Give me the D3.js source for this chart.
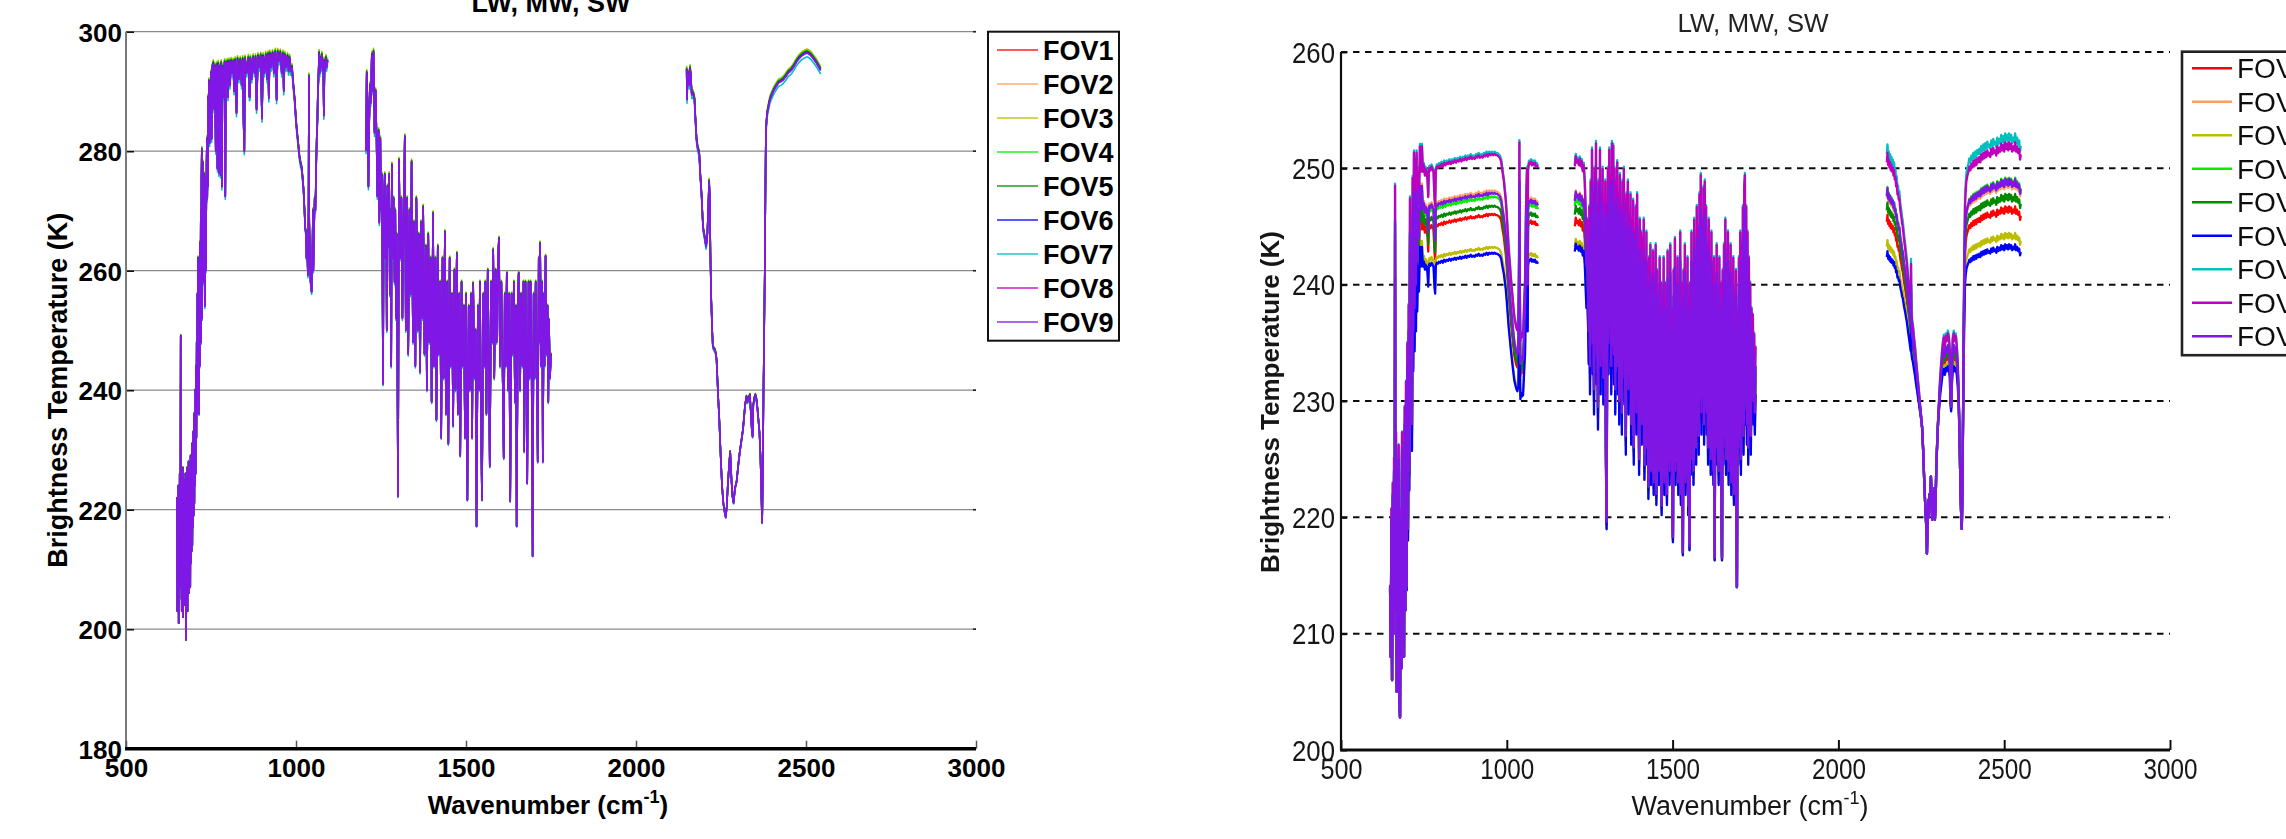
<!DOCTYPE html>
<html>
<head>
<meta charset="utf-8">
<script src="https://cdn.jsdelivr.net/npm/d3@7"></script>
<style>
html, body { margin: 0; padding: 0; background: #fff; overflow: hidden; }
svg { display: block; }
text { font-family: "Liberation Sans", Arial, Helvetica, sans-serif; }
</style>
</head>
<body>
<svg id="fig" width="2286" height="839"></svg>
<script>
// ---- data -------------------------------------------------------------
const fovNames = ["FOV1", "FOV2", "FOV3", "FOV4", "FOV5", "FOV6", "FOV7", "FOV8", "FOV9"];
const xTicks = [500, 1000, 1500, 2000, 2500, 3000];
const leftYTicks = [180, 200, 220, 240, 260, 280, 300];
const rightYTicks = [200, 210, 220, 230, 240, 250, 260];
const panelTitle = "LW, MW, SW";

// Left scene, FOV9 brightness temperature [wavenumber, K] per band
const leftLW = [[650,222],[651,203],[652,220],[653,206],[654,224],[655,201],[656,219],[657,205],[658,226],[659,208],[660,221],[661,249],[662,207],[663,224],[664,203],[665,222],[666,206],[667,227],[668,202],[669,220],[670,207],[671,225],[672,204],[673,223],[674,209],[675,226],[676,201],[677,198.2],[678,221],[679,205],[680,227],[681,203],[682,222],[683,208],[684,228],[685,206],[686,224],[687,210],[688,226],[689,207],[690,229],[691,211],[692,225],[693,213],[694,231],[695,214],[696,227],[697,217],[698,233],[699,219],[700,236],[701,221],[702,235],[703,224],[704,240],[705,226],[706,244],[707,232],[708,248],[709,236],[710,256],[711,240],[712,262],[713,242],[714,258],[715,236],[716,262],[717,244],[718,264.6],[719,250],[720,270],[721,248],[722,275],[723,280.2],[724,252],[725,270],[726,278],[727,258],[728,270],[729,262],[730,276],[731,275.2],[732,254],[733,266],[734,272],[735,260],[736,270],[737,277.4],[738,282],[739,272],[740,280],[741,274],[742,289],[743,284],[744,291.6],[746,281.3],[748,285],[750,293],[752,282],[754,294],[757,294.6],[759,287],[761,294],[764,280],[766,294.3],[769,277],[771,294.5],[773,276.3],[775,294],[778,276],[780,294.6],[782,274],[784,294],[787,289],[790,294.8],[792,272.4],[794,294.5],[798,294.8],[800,289],[803,294.9],[806,291],[809,295],[812,293],[815,294.9],[818,290],[821,295.1],[825,286.3],[828,295.3],[832,292],[836,295.2],[840,291],[843,295.3],[846,284.3],[848,279.9],[850,295.4],[855,293],[860,295.5],[863,289],[865,289.1],[866,295.4],[870,292],[874,295.6],[878,293],[881,295.6],[884,286.9],[888,295.8],[892,294],[896,295.9],[900,285.4],[903,295.8],[907,293],[911,296],[915,292],[918,296.1],[920,288.8],[923,296.2],[927,294],[931,296.3],[935,293],[939,296.5],[943,288.5],[946,296.5],[950,295],[954,296.4],[958,293],[962,296.2],[964,290],[967,296],[971,294],[975,295.8],[978,293.3],[981,295.5],[984,293.3],[988,294],[992,291],[996,288.5],[1000,285],[1003,283],[1006,281.4],[1010,279],[1013,278],[1017,277],[1020,275],[1022,273.6],[1025,270],[1027,267],[1029,266.4],[1031,262],[1033,264],[1035,259.2],[1037,270],[1038,292.4],[1039,268],[1041,262],[1043,258],[1046,256.4],[1048,262],[1050,270],[1051,260],[1053,266.4],[1055,272],[1057,270],[1059,276.4],[1061,282],[1063,285],[1064,288.6],[1066,292],[1068,296.3],[1070,293],[1072,295.5],[1074,294],[1076,296],[1078,293.5],[1080,295],[1082,285.9],[1084,295],[1086,293.5],[1088,295.5],[1090,294],[1093,295]];
const leftMW = [[1206,280],[1208,293],[1211,287],[1213,274],[1215,284],[1218,291],[1220,288],[1223,296],[1226,290],[1228,296.5],[1231,283],[1234,290],[1237,282],[1239,272.4],[1241,280],[1243,283.3],[1245,268],[1248,282],[1250,270],[1252,276],[1254,262],[1256,241],[1258,270],[1261,276],[1263,262],[1265,272],[1267,250],[1269,274],[1272,264],[1274,276],[1276,256],[1278,270],[1280,244],[1282,277.6],[1285,262],[1287,272],[1290,258],[1292,270],[1294,252],[1296,266],[1298,248],[1300,222.2],[1303,278.4],[1306,262],[1310,272],[1313,252],[1317,270],[1320,282.3],[1323,250],[1327,272],[1330,246],[1334,270],[1337,256],[1340,278.1],[1344,248],[1347,268],[1351,244],[1354,272],[1358,250],[1361,266],[1365,243],[1368,268],[1372,252],[1374,270.6],[1378,246],[1382,264],[1385,240],[1389,266],[1392,248],[1396,262],[1399,238],[1403,269.5],[1406,244],[1410,262],[1413,235],[1417,264],[1420,246],[1424,258],[1427,232],[1431,262],[1434,242],[1438,266.4],[1441,236],[1445,258],[1448,231],[1452,262],[1455,244],[1459,256],[1462,234],[1466,260],[1469,240],[1473,262.8],[1476,236],[1480,256],[1483,229],[1487,258],[1490,244],[1494,254],[1497,232],[1500,256],[1504,221.6],[1508,254],[1511,240],[1515,256],[1518,232],[1521,257.8],[1525,242],[1528,250],[1531,217.2],[1535,254],[1538,240],[1541,258],[1544,236],[1547,221.6],[1551,256],[1554,244],[1557,258],[1560,236],[1564,260],[1567,246],[1570,227.2],[1574,258],[1577,248],[1580,263.4],[1583,242],[1587,260],[1590,248],[1594,262],[1597,265.3],[1600,244],[1604,258],[1607,246],[1611,228.6],[1614,256],[1617,244],[1620,259.5],[1624,240],[1627,256],[1630,221.4],[1634,256],[1637,246],[1641,258],[1644,238],[1647,254],[1649,217.2],[1653,256],[1655,259.5],[1659,240],[1662,256],[1666,244],[1669,258],[1671,229.7],[1675,258],[1678,246],[1680,224.4],[1684,258],[1687,242],[1690,258],[1693,244],[1696,212.2],[1699,256],[1702,242],[1705,258],[1708,246],[1711,228],[1714,262],[1717,248],[1718,264.5],[1721,244],[1724,258],[1726,228],[1729,256],[1731,244],[1734,262.3],[1737,246],[1740,254],[1742,238],[1744,251.7],[1747,242],[1750,246]];
const leftSW = [[2149,293.6],[2150,288.6],[2152,292.5],[2155,293],[2157,291],[2159,293.8],[2161,292.5],[2164,289.4],[2168,289.6],[2172,288.6],[2175,285],[2178,281.9],[2181,280.6],[2183,280.2],[2186,279.5],[2189,276],[2193,272.4],[2196,268.5],[2198,266.8],[2202,265.5],[2206,264],[2208,264.8],[2210,266.2],[2213,271],[2215,274.9],[2217,272],[2219,262],[2221,255.6],[2224,250],[2226,247.3],[2229,246.9],[2232,246.7],[2235,246],[2237,245],[2240,241],[2242,238.4],[2245,235],[2249,229],[2253,224],[2257,221],[2261,219.5],[2264,218.7],[2267,220.5],[2270,224],[2274,227.5],[2277,229.7],[2280,226],[2283,222.5],[2287,221.1],[2291,223.5],[2296,224.7],[2300,227],[2305,229.5],[2310,231.5],[2315,233.5],[2318,235.6],[2321,237.5],[2325,238.9],[2328,238],[2331,238.5],[2335,239.2],[2338,236],[2341,233],[2343,232.2],[2345,237.5],[2348,238.6],[2351,239.2],[2354,238.5],[2357,237],[2360,235],[2363,233],[2366,229],[2369,222],[2371,217.8],[2373,226],[2375,240],[2377,250],[2379,260.7],[2381,276],[2382,283],[2384,285],[2386,286.3],[2390,287.5],[2394,288.6],[2399,289.3],[2404,290],[2411,290.7],[2419,291.4],[2426,291.6],[2433,291.9],[2440,292.4],[2448,293.1],[2453,293.3],[2458,293.6],[2465,294.2],[2473,295],[2480,295.5],[2487,295.9],[2495,296.2],[2502,296.4],[2507,296.3],[2512,296.1],[2517,295.8],[2521,295.5],[2526,295.1],[2531,294.7],[2535,294.3],[2539,293.9],[2543,293.5]];

// Left scene: FOV offsets from FOV9 (K) at the warm window level
const leftOffsets = [0.2, 0.3, 0.7, 0.45, 0.35, 0.15, -0.6, 0.1, 0];
const leftColdK = 200;
const leftWarmK = 295;

// Right scene, FOV9 brightness temperature [wavenumber, K] per band
const rightLW = [[648,214],[650,208],[652,220],[654,206],[656,222],[658,210],[660,224],[662,212],[663,245.4],[664,214],[666,226],[668,205],[670,221],[672,209],[674,225],[676,204],[678,202.8],[680,220],[682,207],[684,226],[686,210],[688,222],[690,208],[692,228],[694,212],[696,230],[698,214],[700,233],[702,219],[704,236],[706,224],[708,244.4],[710,230],[712,241],[714,228],[716,246],[718,236],[720,248],[722,238],[724,247.5],[726,240],[728,248],[730,242],[732,246.5],[735,244],[738,248.5],[741,246.5],[744,248.5],[747,246.5],[750,247],[753,246.2],[755,246.7],[758,246.5],[761,245.8],[763,244.5],[765,246.6],[767,246.8],[770,246.6],[773,246.9],[776,246.7],[779,246.5],[782,244.4],[784,243.8],[786,246.6],[789,246.9],[792,246.8],[795,247],[799,246.9],[803,247.1],[807,246.9],[811,247.2],[815,247],[819,247.2],[823,247.1],[827,247.3],[831,247.1],[835,247.3],[839,247.2],[843,247.4],[847,247.2],[851,247.4],[855,247.3],[859,247.5],[863,247.3],[867,247.5],[871,247.4],[875,247.6],[879,247.4],[883,247.6],[887,247.5],[891,247.7],[895,247.5],[899,247.6],[903,247.5],[907,247.7],[911,247.6],[915,247.8],[919,247.6],[923,247.7],[927,247.6],[931,247.8],[935,247.7],[939,247.9],[943,247.7],[947,247.9],[951,247.8],[955,247.9],[959,247.8],[963,247.9],[967,247.8],[971,247.8],[975,247.7],[979,247.6],[983,247.3],[987,246.5],[991,245.8],[994,245],[997,244.2],[1000,243],[1003,241.6],[1006,240.3],[1009,239.3],[1012,238.2],[1015,237.3],[1018,236.4],[1020,235.8],[1023,235],[1026,234.6],[1029,234.2],[1032,234],[1035,234.5],[1037,240],[1038,248.8],[1039,238],[1041,233.2],[1044,233.8],[1047,233.5],[1049,233.6],[1051,235],[1053,236.5],[1055,237.8],[1057,242],[1059,245],[1061,246.7],[1063,240],[1064,246.6],[1067,247.2],[1070,247.1],[1073,247.3],[1076,247],[1079,247.2],[1082,247],[1085,247.2],[1088,246.9],[1091,247],[1094,246.8]];
const rightMW = [[1205,247.2],[1208,248],[1211,247.5],[1214,247.7],[1217,247.3],[1220,247.8],[1223,247.2],[1226,247.6],[1229,246.8],[1232,247.3],[1235,246],[1237,244.4],[1240,241.6],[1242,243],[1245,240],[1247,236],[1249,244],[1251,233],[1253,246],[1255,238],[1257,248.5],[1259,235],[1261,245],[1263,231],[1265,247],[1267,237],[1269,249],[1271,234],[1273,244],[1275,229.5],[1277,246],[1279,236],[1281,248.5],[1283,233],[1285,245],[1287,238],[1289,247],[1291,232],[1293,244],[1295,236],[1297,246],[1299,226],[1301,219.6],[1303,240],[1305,247],[1307,235],[1309,248.5],[1311,237],[1313,246.5],[1315,233],[1317,249],[1319,238],[1321,248.8],[1323,234],[1325,247],[1327,231],[1329,246],[1331,238],[1333,247.5],[1335,233],[1337,245],[1339,230],[1341,246.5],[1343,236],[1345,244],[1347,229],[1349,246],[1351,235],[1353,247],[1355,232],[1357,244.5],[1359,227],[1361,245],[1363,236],[1365,246],[1367,231],[1369,243.5],[1371,235],[1373,245],[1375,228],[1377,243],[1379,233],[1381,244.5],[1383,226],[1385,242],[1387,234],[1389,244],[1391,229],[1393,245],[1395,232],[1397,241],[1399,225],[1401,243],[1403,233],[1405,242],[1407,228],[1409,241.5],[1411,231],[1413,243],[1415,224.5],[1417,240],[1419,230],[1421,242],[1423,226],[1425,239.5],[1427,222.6],[1429,240],[1431,229],[1433,241],[1435,224],[1437,238],[1439,228],[1441,240.5],[1443,223],[1445,238],[1447,230],[1449,241],[1451,222],[1453,239],[1455,227],[1457,236],[1459,224],[1461,240],[1463,229],[1465,238],[1467,221],[1469,237],[1471,226],[1473,240],[1475,223],[1477,238],[1479,228],[1481,236],[1483,222],[1485,240.5],[1487,226],[1489,238],[1491,224],[1493,241],[1495,227],[1497,236],[1499,222],[1501,218.3],[1503,239],[1505,226],[1507,241.5],[1509,224],[1511,238],[1513,228],[1515,240],[1517,223],[1519,237],[1521,226],[1523,242],[1525,222],[1527,238],[1529,225],[1531,217],[1533,239],[1535,227],[1537,241],[1539,223],[1541,236],[1543,226],[1545,240],[1547,221],[1549,237],[1551,217.5],[1553,238],[1555,225],[1557,242],[1559,228],[1561,239],[1563,224],[1565,243],[1567,229],[1569,240],[1571,226],[1573,244],[1575,230],[1577,241],[1579,227],[1581,245],[1583,231],[1585,246.5],[1587,229],[1589,243],[1591,232],[1593,245.5],[1595,228],[1597,246],[1599,233],[1601,244],[1603,229],[1605,241],[1607,226],[1609,243],[1611,230],[1613,240],[1615,225],[1617,242],[1619,228],[1621,239],[1623,224],[1625,240],[1627,216.5],[1629,238],[1631,226],[1633,241],[1635,229],[1637,237],[1639,224],[1641,240],[1643,227],[1645,238],[1647,222],[1649,216.5],[1651,239],[1653,226],[1655,241],[1657,228],[1659,243],[1661,225],[1663,240],[1665,229],[1667,242],[1669,224],[1671,239],[1673,227],[1675,241],[1677,223],[1679,238],[1681,226],[1683,240],[1685,222],[1687,237],[1689,225],[1691,239],[1693,219],[1694,214],[1696,236],[1698,226],[1700,240],[1702,228],[1704,242],[1706,225],[1708,241],[1710,229],[1712,244],[1714,227],[1716,245.5],[1718,246.5],[1720,230],[1722,244],[1724,228],[1726,242],[1728,226],[1730,240],[1732,229],[1734,238],[1736,227],[1738,236],[1740,232],[1742,235.5],[1744,230],[1746,234],[1748,229],[1750,233]];
const rightSW = [[2146,247.6],[2148,248.3],[2150,247.4],[2152,247.8],[2154,247.2],[2156,247.6],[2158,247],[2160,247.4],[2162,246.9],[2164,247.2],[2166,246.6],[2168,247],[2170,246.3],[2172,246.5],[2174,245.8],[2176,246],[2178,245.2],[2180,245.3],[2182,244.8],[2184,244.9],[2186,244.2],[2188,243.8],[2190,243.5],[2192,243],[2194,242.8],[2196,242.3],[2198,241.8],[2200,241.4],[2202,241],[2204,240.5],[2206,240.1],[2208,239.5],[2210,238.9],[2212,238.3],[2214,237.8],[2216,237.2],[2218,236.6],[2219,240],[2220,236.4],[2222,235.7],[2225,235.2],[2228,234.4],[2231,233.7],[2234,232.8],[2237,232],[2240,231.2],[2242,230.7],[2245,229.8],[2248,229],[2251,228.2],[2253,227.5],[2256,225.5],[2259,223],[2262,221],[2264,219.8],[2266,218.5],[2267,216.9],[2269,219.5],[2271,221.5],[2273,220],[2275,222],[2277,221],[2279,223.5],[2281,221.8],[2283,219.8],[2285,221.5],[2287,220.2],[2289,222.5],[2291,219.8],[2293,221],[2295,224],[2298,226.5],[2301,228.5],[2304,230],[2307,231.5],[2310,232.5],[2313,233.5],[2315,234],[2318,234.5],[2321,233.8],[2324,234.6],[2327,234.2],[2330,234.8],[2333,234.5],[2336,233.5],[2338,230.5],[2340,229.5],[2342,232.5],[2345,234.4],[2348,234.8],[2351,234.2],[2354,234.6],[2357,233.8],[2360,232.5],[2363,230],[2366,226],[2368,222.5],[2370,220.5],[2372,219],[2374,222],[2376,229],[2378,236],[2380,241],[2382,244.5],[2384,245.5],[2386,246.2],[2389,246.6],[2392,246.9],[2395,247.3],[2398,247],[2401,247.5],[2404,247.2],[2407,247.7],[2410,247.3],[2413,247.8],[2416,247.4],[2419,247.9],[2422,247.6],[2425,248],[2428,247.6],[2431,248.2],[2434,247.8],[2437,248.3],[2440,247.9],[2443,248.4],[2446,248],[2449,248.5],[2452,248.1],[2455,248.3],[2458,248],[2461,248.6],[2464,248.2],[2467,248.7],[2470,248.3],[2473,248.5],[2476,248.1],[2479,248.8],[2482,248.3],[2485,248.7],[2488,248.4],[2491,249],[2494,248.5],[2497,248.9],[2500,248.4],[2503,249.1],[2506,248.6],[2509,249],[2512,248.5],[2515,249.1],[2518,248.6],[2521,249],[2524,248.4],[2527,248.8],[2530,248.5],[2533,249.1],[2536,248.4],[2539,248.8],[2542,248.3],[2545,248.6],[2548,247.8],[2550,248.2]];

// Right scene: FOV offsets from FOV9 (K) at the warm window level, per band,
// with the scene temperature at which the FOVs come together
const rightOffsetsLW = [-1.8, 0.2, -4.6, -0.3, -1.1, -5.1, 3.5, 3.3, 0];
const rightOffsetsMW = [-2.2, 0.1, -4.0, -0.4, -1.2, -4.4, 3.2, 3.0, 0];
const rightOffsetsSW = [-2.2, -0.2, -4.3, 0.1, -1.2, -5.2, 3.6, 2.9, 0];
const rightColdLW = 212;
const rightColdMW = 215;
const rightColdSW = 228;
const rightWarmK = 247.5;

// ---- styling ----------------------------------------------------------
const lineColors = ["#ff0000", "#ffa260", "#bdbd00", "#00ee00", "#008a00", "#0000ff", "#00bfbf", "#bf00bf", "#7f17e6"];
const FONT = '"Liberation Sans", Arial, Helvetica, sans-serif';

// Each FOV: FOV9 spectrum plus its offset, scaled by how warm the scene is at that channel
function fovSpectrum(base, offsets, i, coldK, warmK) {
  return base.map(([wn, t]) => {
    const w = Math.max(0, Math.min(1.1, (t - coldK) / (warmK - coldK)));
    return [wn, t + offsets[i] * w];
  });
}

const svg = d3.select("#fig");
const defs = svg.append("defs");
defs.append("filter").attr("id", "soft").attr("x", "-2%").attr("y", "-2%").attr("width", "104%").attr("height", "104%")
  .append("feGaussianBlur").attr("stdDeviation", 0.45);

// ======================= LEFT PANEL =======================
(function () {
  const xL = d3.scaleLinear().domain([500, 3000]).range([126, 976]);
  const yL = d3.scaleLinear().domain([180, 300]).range([748.7, 31.7]);
  const g = svg.append("g");

  // horizontal grid
  g.append("g").selectAll("line").data(leftYTicks.filter(t => t > 180)).join("line")
    .attr("x1", xL(500)).attr("x2", xL(3000))
    .attr("y1", d => yL(d)).attr("y2", d => yL(d))
    .attr("stroke", "#8a8a8a").attr("stroke-width", 1.2);
  // short dark marks at the right end of each grid line
  g.append("g").selectAll("line").data(leftYTicks.filter(t => t > 180)).join("line")
    .attr("x1", xL(3000) - 3).attr("x2", xL(3000))
    .attr("y1", d => yL(d)).attr("y2", d => yL(d))
    .attr("stroke", "#222").attr("stroke-width", 1.6);

  // spectra
  defs.append("clipPath").attr("id", "clipL").append("rect")
    .attr("x", xL(500)).attr("y", yL(300) - 2).attr("width", xL(3000) - xL(500)).attr("height", yL(180) - yL(300) + 2);
  const line = d3.line().x(d => xL(d[0])).y(d => yL(d[1]));
  const spec = g.append("g").attr("clip-path", "url(#clipL)");
  fovNames.forEach((name, i) => {
    [leftLW, leftMW, leftSW].forEach(band => {
      spec.append("path")
        .datum(fovSpectrum(band, leftOffsets, i, leftColdK, leftWarmK))
        .attr("d", line).attr("fill", "none")
        .attr("stroke", lineColors[i]).attr("stroke-width", 1.6)
        .attr("stroke-linejoin", "round");
    });
  });

  // y axis
  const ya = g.append("g").attr("transform", `translate(${xL(500)},0)`)
    .call(d3.axisLeft(yL).tickValues(leftYTicks).tickSize(-8).tickPadding(5));
  ya.select(".domain").remove();
  ya.selectAll(".tick line").attr("stroke", "#111").attr("stroke-width", 1.6);
  ya.selectAll(".tick text").attr("font-family", FONT).attr("font-size", 26).attr("font-weight", "bold")
    .attr("fill", "#000").attr("x", -4).attr("dy", "0.36em");
  g.append("line").attr("x1", xL(500)).attr("x2", xL(500)).attr("y1", yL(300)).attr("y2", yL(180))
    .attr("stroke", "#7a7a7a").attr("stroke-width", 2);

  // x axis
  const xa = g.append("g").attr("transform", `translate(0,${yL(180)})`)
    .call(d3.axisBottom(xL).tickValues(xTicks).tickSize(-8).tickFormat(d3.format("d")));
  xa.select(".domain").remove();
  xa.selectAll(".tick line").attr("stroke", "#555").attr("stroke-width", 1.5);
  xa.selectAll(".tick text").attr("font-family", FONT).attr("font-size", 26).attr("font-weight", "bold")
    .attr("fill", "#000").attr("y", 28.5).attr("dy", null);
  g.append("line").attr("x1", xL(500) - 1).attr("x2", xL(3000)).attr("y1", yL(180)).attr("y2", yL(180))
    .attr("stroke", "#000").attr("stroke-width", 3.5);

  // labels
  g.append("text").attr("x", (xL(500) + xL(3000)) / 2).attr("y", 11.5)
    .attr("text-anchor", "middle").attr("font-size", 27).attr("font-weight", "bold").text(panelTitle);
  const xl = g.append("text").attr("x", 548).attr("y", 814).attr("text-anchor", "middle")
    .attr("font-size", 26).attr("font-weight", "bold");
  xl.append("tspan").text("Wavenumber (cm");
  xl.append("tspan").attr("dy", -11).attr("font-size", 18).text("-1");
  xl.append("tspan").attr("dy", 11).text(")");
  g.append("text").attr("transform", `translate(67,${(yL(300) + yL(180)) / 2}) rotate(-90)`)
    .attr("text-anchor", "middle").attr("font-size", 27).attr("font-weight", "bold")
    .text("Brightness Temperature (K)");

  // legend
  const lg = g.append("g");
  lg.append("rect").attr("x", 988).attr("y", 31.7).attr("width", 131).attr("height", 309)
    .attr("fill", "#fff").attr("stroke", "#111").attr("stroke-width", 2);
  fovNames.forEach((name, i) => {
    const yy = 50 + 34 * i;
    lg.append("line").attr("x1", 997).attr("x2", 1038).attr("y1", yy).attr("y2", yy)
      .attr("stroke", lineColors[i]).attr("stroke-width", 2.2).attr("stroke-opacity", 0.65);
    lg.append("text").attr("x", 1043).attr("y", yy).attr("dy", "0.36em")
      .attr("font-size", 27).attr("font-weight", "bold").text(name);
  });
})();

// ======================= RIGHT PANEL =======================
(function () {
  const xR = d3.scaleLinear().domain([500, 3000]).range([1341, 2170]);
  const yR = d3.scaleLinear().domain([200, 260]).range([750, 52]);
  const g = svg.append("g").attr("filter", "url(#soft)");

  // dashed grid
  g.append("g").selectAll("line").data(rightYTicks.filter(t => t > 200)).join("line")
    .attr("x1", xR(500)).attr("x2", xR(3000))
    .attr("y1", d => yR(d)).attr("y2", d => yR(d))
    .attr("stroke", "#111").attr("stroke-width", 2).attr("stroke-dasharray", "6.5,5.5");

  // spectra
  defs.append("clipPath").attr("id", "clipR").append("rect")
    .attr("x", xR(500)).attr("y", yR(260)).attr("width", xR(3000) - xR(500)).attr("height", yR(200) - yR(260));
  const line = d3.line().x(d => xR(d[0])).y(d => yR(d[1]));
  const spec = g.append("g").attr("clip-path", "url(#clipR)");
  const bands = [
    [rightLW, rightOffsetsLW, rightColdLW],
    [rightMW, rightOffsetsMW, rightColdMW],
    [rightSW, rightOffsetsSW, rightColdSW]
  ];
  fovNames.forEach((name, i) => {
    bands.forEach(([band, offs, cold]) => {
      spec.append("path")
        .datum(fovSpectrum(band, offs, i, cold, rightWarmK))
        .attr("d", line).attr("fill", "none")
        .attr("stroke", lineColors[i]).attr("stroke-width", 2.3)
        .attr("stroke-linejoin", "round");
    });
  });

  // y axis
  const ya = g.append("g").attr("transform", `translate(${xR(500)},0)`)
    .call(d3.axisLeft(yR).tickValues(rightYTicks).tickSize(-6));
  ya.select(".domain").remove();
  ya.selectAll(".tick line").attr("stroke", "#111").attr("stroke-width", 2);
  ya.selectAll(".tick text").attr("font-family", FONT).attr("font-size", 29)
    .attr("fill", "#161616").attr("x", -6).attr("dy", "0.35em")
    .attr("textLength", 43).attr("lengthAdjust", "spacingAndGlyphs");
  g.append("line").attr("x1", xR(500)).attr("x2", xR(500)).attr("y1", yR(260)).attr("y2", yR(200))
    .attr("stroke", "#111").attr("stroke-width", 2.2);

  // x axis
  const xa = g.append("g").attr("transform", `translate(0,${yR(200)})`)
    .call(d3.axisBottom(xR).tickValues(xTicks).tickSize(-10).tickFormat(d3.format("d")));
  xa.select(".domain").remove();
  xa.selectAll(".tick line").attr("stroke", "#111").attr("stroke-width", 2);
  xa.selectAll(".tick text").attr("font-family", FONT).attr("font-size", 29)
    .attr("fill", "#161616").attr("y", 29).attr("dy", null)
    .attr("textLength", d => String(d).length > 3 ? 54 : 42).attr("lengthAdjust", "spacingAndGlyphs");
  g.append("line").attr("x1", xR(500) - 1).attr("x2", xR(3000)).attr("y1", yR(200)).attr("y2", yR(200))
    .attr("stroke", "#111").attr("stroke-width", 3);

  // labels
  g.append("text").attr("x", 1753).attr("y", 32).attr("text-anchor", "middle")
    .attr("font-size", 26).attr("fill", "#222").text(panelTitle);
  const xl = g.append("text").attr("x", 1750).attr("y", 815).attr("text-anchor", "middle")
    .attr("font-size", 27).attr("fill", "#161616");
  xl.append("tspan").text("Wavenumber (cm");
  xl.append("tspan").attr("dy", -11).attr("font-size", 18).text("-1");
  xl.append("tspan").attr("dy", 11).text(")");
  g.append("text").attr("transform", `translate(1279,402) rotate(-90)`)
    .attr("text-anchor", "middle").attr("font-size", 26).attr("font-weight", "bold").attr("fill", "#161616")
    .text("Brightness Temperature (K)");

  // legend
  const lg = g.append("g");
  lg.append("rect").attr("x", 2182).attr("y", 51.7).attr("width", 200).attr("height", 303.5)
    .attr("fill", "#fff").attr("stroke", "#222").attr("stroke-width", 2.6);
  fovNames.forEach((name, i) => {
    const yy = 68.3 + 33.5 * i;
    lg.append("line").attr("x1", 2192).attr("x2", 2232).attr("y1", yy).attr("y2", yy)
      .attr("stroke", lineColors[i]).attr("stroke-width", 2.4);
    lg.append("text").attr("x", 2237).attr("y", yy).attr("dy", "0.36em")
      .attr("font-size", 28).attr("fill", "#111").text(name);
  });
})();
</script>
</body>
</html>
